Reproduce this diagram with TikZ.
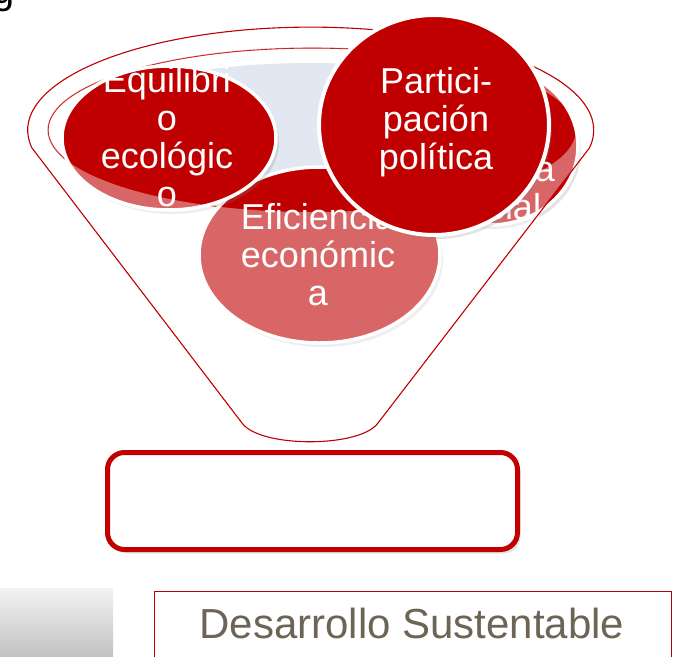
\documentclass[tikz,border=0pt]{standalone}
\usepackage{fontspec}
\setmainfont{Liberation Sans}
\usetikzlibrary{shapes.geometric,shadows}
\definecolor{dred}{RGB}{192,0,0}
\definecolor{mouth}{RGB}{225,232,242}
\definecolor{txtbrown}{RGB}{108,100,84}
\newcommand\bubblefont{\fontsize{36}{38}\selectfont\lineskiplimit-100pt\relax}
\begin{document}
\begin{tikzpicture}[x=1pt,y=-1pt,
  bubble/.style={ellipse, draw=white, line width=3.5pt, fill=dred, inner sep=0pt,
    drop shadow={opacity=0.22, shadow xshift=3pt, shadow yshift=-4pt}},
  bubtext/.style={text=white, align=center, inner sep=0pt, font=\bubblefont},
  rim/.style={draw=dred, line width=1.1pt}
]
\useasboundingbox (0,0) rectangle (682,656);
\clip (0,0) rectangle (682,656);

% fragment of a letter at the top-left corner
\node[anchor=base west, inner sep=0pt, font=\fontsize{40}{40}\selectfont] (gfrag) at (-8,3) {g};

% mouth of the funnel
\fill[mouth] (311,130) ellipse [x radius=240, y radius=67];
\draw[rim] (312,130) ellipse [x radius=264, y radius=82];

% circles inside the funnel
\node[bubble, minimum width=241pt, minimum height=176pt] (efic) at (319.5,255) {};
\node[bubtext] (eficT) at (318,255) {Eficiencia\\económic\\a};

\node[bubble, minimum width=176pt, minimum height=158pt] (soc) at (490,146) {};
\node[bubtext] (socT) at (495,188) {Justicia\\social};

\node[bubble, minimum width=214pt, minimum height=144pt] (equi) at (169,138) {};
\node[bubtext] (equiT) at (167,137) {Equilibri\\o\\ecológic\\o};

% translucent funnel body
\fill[white, fill opacity=0.4, even odd rule]
  (32,148) arc[start angle=170, end angle=370, x radius=283, y radius=103]
  -- (378,423) .. controls (360,448) and (260,448) .. (242,423) -- cycle
  (312,130) ellipse [x radius=264, y radius=82];
\draw[rim]
  (32,148) arc[start angle=170, end angle=370, x radius=283, y radius=103]
  -- (378,423) .. controls (360,448) and (260,448) .. (242,423) -- cycle;

% front circle
\node[bubble, line width=4pt, minimum width=230pt, minimum height=220pt] (part) at (434,125) {};
\node[bubtext] (partT) at (436,122) {Partici-\\pación\\política};

% result box
\node[draw=dred, line width=5pt, rounded corners=17pt, fill=white,
  minimum width=410pt, minimum height=97pt, inner sep=0pt,
  drop shadow={opacity=0.22, shadow xshift=3pt, shadow yshift=-4pt}] (result) at (312.5,501) {};

% grey block bottom-left
\shade[top color=gray!10, bottom color=gray!50] (0,588) rectangle (113,660);

% title box
\node[draw=dred, line width=1.3pt, minimum width=517pt, minimum height=90pt,
  anchor=north west, inner sep=0pt] (ds) at (154,591) {};
\node[text=txtbrown, font=\fontsize{42}{42}\selectfont, anchor=base, inner sep=0pt] (dsT) at (412,638) {Desarrollo Sustentable};
\end{tikzpicture}
\end{document}
